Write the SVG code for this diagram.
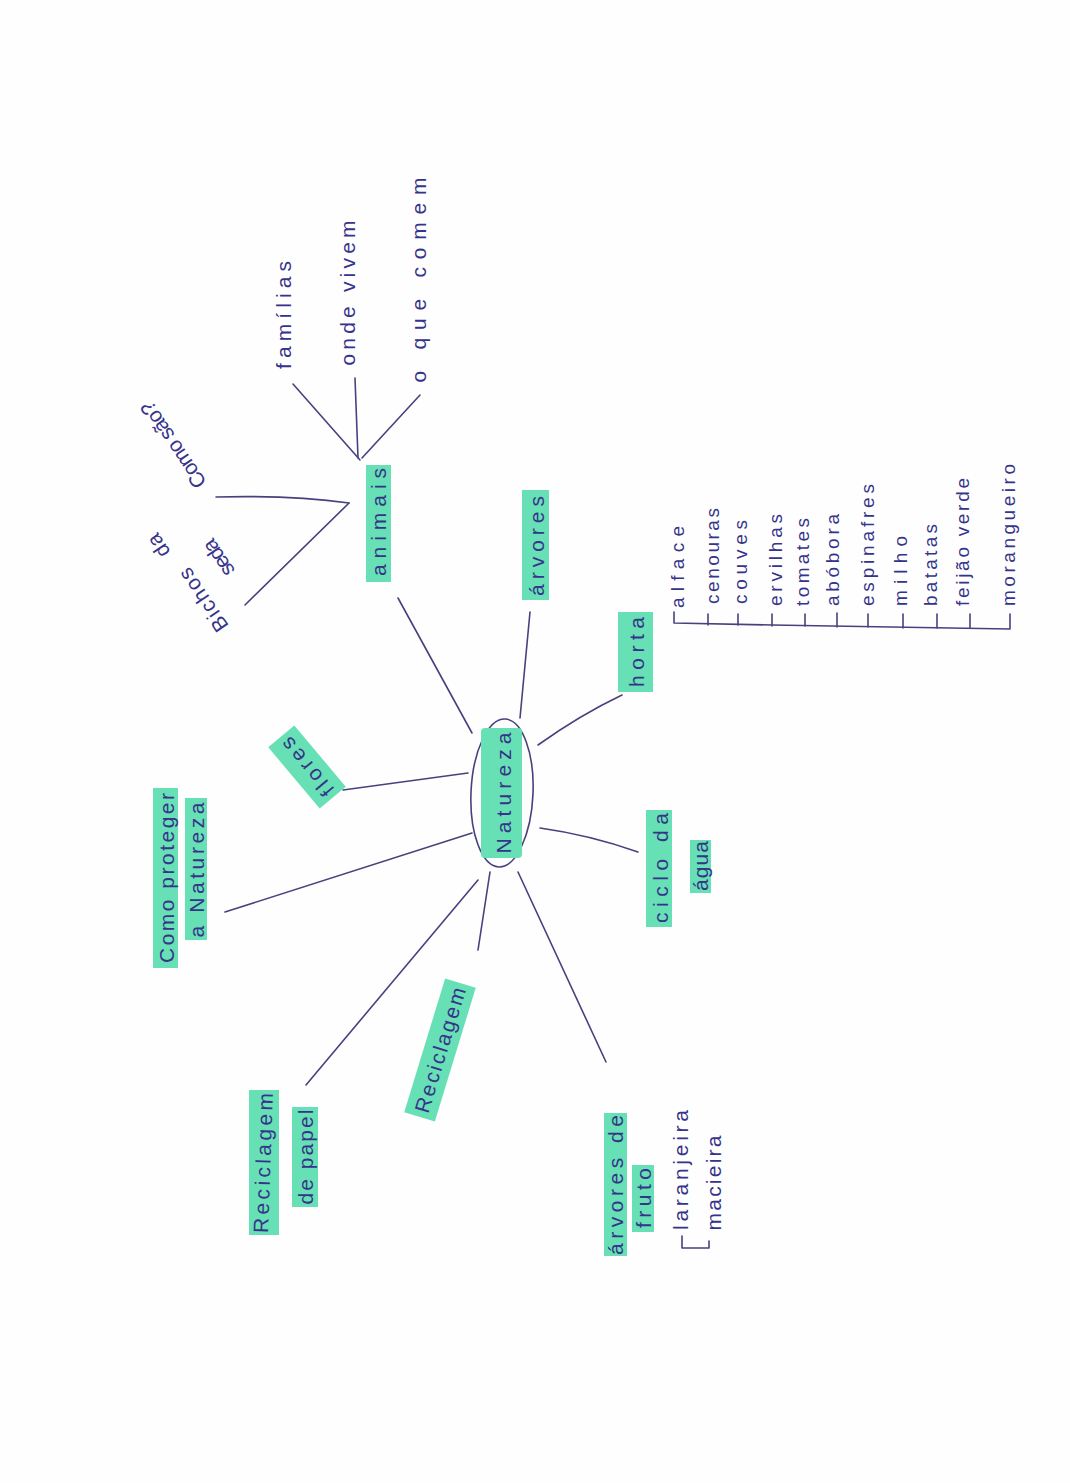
<svg xmlns="http://www.w3.org/2000/svg" width="1070" height="1483" viewBox="0 0 1070 1483">
<style>
.t{font-family:"Liberation Sans","DejaVu Sans",sans-serif;fill:#36348a;dominant-baseline:central;text-anchor:middle;font-size:21px}
.s{font-family:"Liberation Sans","DejaVu Sans",sans-serif;fill:#36348a;dominant-baseline:central;text-anchor:start;font-size:19px}
.hl{fill:#66e0b4}
.ln{fill:none;stroke:#45427e;stroke-width:1.6;stroke-linecap:round;stroke-linejoin:round}
</style>
<rect width="1070" height="1483" fill="#fefefe"/>
<g id="connectors" class="ln">
<path d="M398 598 L472 733"/>
<path d="M530 612 L520 718"/>
<path d="M622 695 Q580 715 538 745"/>
<path d="M343 790 L468 773"/>
<path d="M225 912 L472 833"/>
<path d="M540 828 Q590 835 638 852"/>
<path d="M478 880 L306 1085"/>
<path d="M490 872 L478 950"/>
<path d="M518 872 L606 1062"/>
<path d="M360 460 L293 384"/>
<path d="M358 458 L355 378"/>
<path d="M362 458 L420 395"/>
<path d="M349 503 Q290 495 216 497"/>
<path d="M349 503 L245 605"/>
<path d="M674 612 L674 623 L772 625 L1010 629 L1010 614"/>
<path d="M708 614 V625 M738 614 V625 M772 614 V626 M805 614 V626 M837 613 V627 M868 614 V627 M903 614 V628 M937 614 V628 M970 614 V628"/>
<path d="M682 1236 V1248 H709 V1241"/>
</g>
<g id="n-natureza">
<ellipse cx="502" cy="793" rx="31" ry="74" transform="rotate(2.5 502 793)" fill="none" stroke="#45427e" stroke-width="1.6"/>
<rect class="hl" x="481" y="728" width="41" height="130" rx="4"/>
<text class="t" transform="translate(503 793) rotate(-90)" font-size="29" textLength="121">Natureza</text>
</g>
<g id="n-animais">
<rect class="hl" x="366" y="465" width="25" height="117"/>
<text class="t" transform="translate(378 522) rotate(-90)" textLength="108">animais</text>
</g>
<g id="n-familias"><text class="t" transform="translate(283 315) rotate(-90)" textLength="108">famílias</text></g>
<g id="n-onde"><text class="t" transform="translate(347 293) rotate(-90)" textLength="145">onde vivem</text></g>
<g id="n-comem"><text class="t" transform="translate(418 280) rotate(-90)" textLength="205">o que comem</text></g>
<g id="n-comosao"><text class="t" transform="translate(173 445) rotate(-124)" font-size="20" textLength="100">Como são?</text></g>
<g id="n-bichos">
<text class="t" transform="translate(203 600) rotate(-124)" font-size="19" textLength="72">Bichos</text>
<text class="t" transform="translate(218 558) rotate(-124)" font-size="18" textLength="40">seda</text>
<text class="t" transform="translate(158 546) rotate(-124)" font-size="18" textLength="24">da</text>
</g>
<g id="n-arvores">
<rect class="hl" x="522" y="490" width="27" height="110"/>
<text class="t" transform="translate(536 546) rotate(-90)" textLength="100">árvores</text>
</g>
<g id="n-horta">
<rect class="hl" x="618" y="612" width="35" height="80"/>
<text class="t" transform="translate(636 652) rotate(-90)" textLength="70">horta</text>
</g>
<g id="n-horta-lista">
<text class="s" transform="translate(677 608) rotate(-90)" textLength="82">alface</text>
<text class="s" transform="translate(712 604) rotate(-90)" textLength="96">cenouras</text>
<text class="s" transform="translate(740 604) rotate(-90)" textLength="84">couves</text>
<text class="s" transform="translate(775 606) rotate(-90)" textLength="92">ervilhas</text>
<text class="s" transform="translate(802 606) rotate(-90)" textLength="88">tomates</text>
<text class="s" transform="translate(832 606) rotate(-90)" textLength="92">abóbora</text>
<text class="s" transform="translate(867 606) rotate(-90)" textLength="122">espinafres</text>
<text class="s" transform="translate(900 606) rotate(-90)" textLength="70">milho</text>
<text class="s" transform="translate(930 606) rotate(-90)" textLength="82">batatas</text>
<text class="s" transform="translate(962 606) rotate(-90)" textLength="128">feijão verde</text>
<text class="s" transform="translate(1008 606) rotate(-90)" textLength="142">morangueiro</text>
</g>
<g id="n-flores">
<g transform="translate(307 767) rotate(-130)">
<rect class="hl" x="-40" y="-17" width="80" height="34"/>
<text class="t" x="0" y="0" textLength="70">flores</text>
</g>
</g>
<g id="n-proteger">
<rect class="hl" x="153" y="788" width="25" height="180"/>
<rect class="hl" x="185" y="798" width="22" height="142"/>
<text class="t" transform="translate(166 878) rotate(-90)" font-size="19" textLength="170">Como proteger</text>
<text class="t" transform="translate(196 870) rotate(-90)" font-size="19" textLength="135">a Natureza</text>
</g>
<g id="n-ciclo">
<rect class="hl" x="646" y="810" width="26" height="117"/>
<rect class="hl" x="690" y="840" width="21" height="53"/>
<text class="t" transform="translate(660 868) rotate(-90)" textLength="110">ciclo da</text>
<text class="t" transform="translate(700 866) rotate(-90)" font-size="19" textLength="50">água</text>
</g>
<g id="n-reciclagem">
<g transform="translate(440 1050) rotate(-73)">
<rect class="hl" x="-70" y="-16" width="140" height="32"/>
<text class="t" x="0" y="0" textLength="130">Reciclagem</text>
</g>
</g>
<g id="n-papel">
<rect class="hl" x="249" y="1090" width="30" height="145"/>
<rect class="hl" x="292" y="1107" width="26" height="100"/>
<text class="t" transform="translate(263 1163) rotate(-88)" textLength="140">Reciclagem</text>
<text class="t" transform="translate(305 1157) rotate(-90)" font-size="19" textLength="95">de papel</text>
</g>
<g id="n-fruto">
<rect class="hl" x="604" y="1113" width="23" height="143"/>
<rect class="hl" x="632" y="1165" width="22" height="67"/>
<text class="t" transform="translate(615 1185) rotate(-90)" font-size="19" textLength="140">árvores de</text>
<text class="t" transform="translate(643 1198) rotate(-90)" font-size="19" textLength="60">fruto</text>
<text class="t" transform="translate(680 1170) rotate(-90)" font-size="18" textLength="120">laranjeira</text>
<text class="t" transform="translate(713 1183) rotate(-90)" font-size="18" textLength="95">macieira</text>
</g>
</svg>
